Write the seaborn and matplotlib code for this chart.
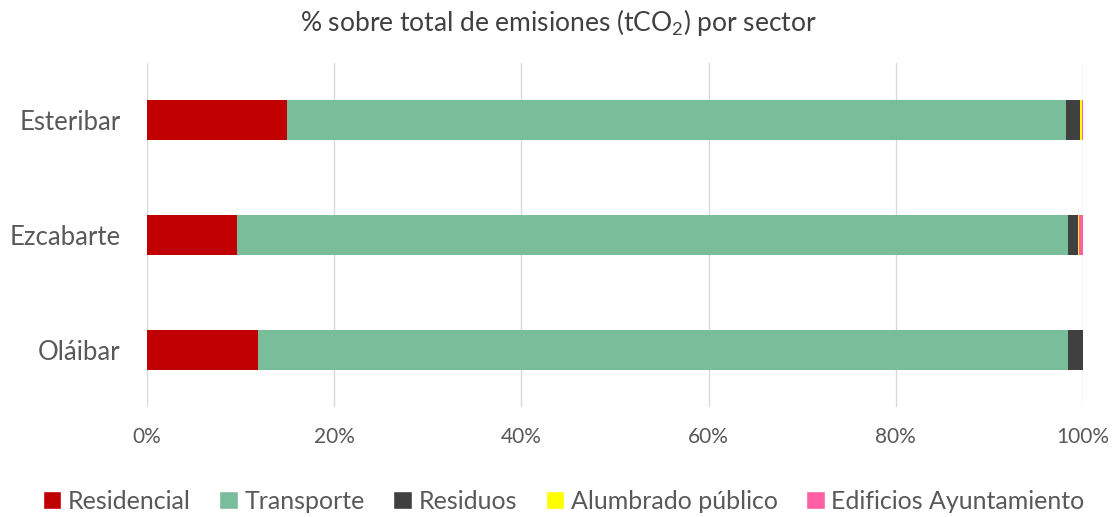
import numpy as np
import pandas as pd
import matplotlib
matplotlib.use('Agg')
import matplotlib.pyplot as plt
import seaborn as sns
from matplotlib.patches import Patch

municipios = ['Esteribar', 'Ezcabarte', 'Oláibar']
sectores = ['Residencial', 'Transporte', 'Residuos', 'Alumbrado público', 'Edificios Ayuntamiento']
residencial = [15.0, 9.6, 11.9]
transporte = [83.2, 88.8, 86.5]
residuos = [1.5, 1.05, 1.6]
alumbrado = [0.15, 0.15, 0.0]
edificios = [0.15, 0.4, 0.0]
colores = ['#c00000', '#7abd9b', '#404040', '#ffff00', '#ff5fa2']

sns.set_style('white')
plt.rcParams['font.family'] = ['Lato', 'DejaVu Sans']
plt.rcParams['mathtext.fontset'] = 'custom'
plt.rcParams['mathtext.rm'] = 'Lato'
plt.rcParams['mathtext.it'] = 'Lato'

df = pd.DataFrame({'Municipio': municipios, 'Residencial': residencial, 'Transporte': transporte,
                   'Residuos': residuos, 'Alumbrado público': alumbrado,
                   'Edificios Ayuntamiento': edificios})
cum = df[sectores].cumsum(axis=1)

fig = plt.figure(figsize=(11.16, 5.17), dpi=100)
ax = fig.add_axes([0.1317, 0.2118, 0.8387, 0.667])

# stacked bars: draw cumulative totals from the outside in
for s, c in reversed(list(zip(sectores, colores))):
    sns.barplot(x=cum[s], y=df['Municipio'], color=c, width=0.35, orient='h', ax=ax,
                saturation=1, linewidth=0)

ax.set_xlim(0, 100)
ax.set_ylim(2.5, -0.5)
ax.set_xticks(np.arange(0, 101, 20))
ax.set_xticklabels([f'{v}%' for v in range(0, 101, 20)])
ax.xaxis.grid(True, color='#d9d9d9', linewidth=1)
ax.set_axisbelow(True)
for sp in ax.spines.values():
    sp.set_visible(False)
ax.tick_params(axis='x', labelsize=15, colors='#595959', length=0, pad=14)
ax.tick_params(axis='y', labelsize=18.5, colors='#595959', length=0, pad=19)
ax.set_xlabel('')
ax.set_ylabel('')

fig.text(0.5, 0.957, '% sobre total de emisiones (tCO$_2$) por sector', ha='center', va='center',
         fontsize=19, color='#404040')

handles = [Patch(facecolor=c, label=s) for s, c in zip(sectores, colores)]
leg = fig.legend(handles=handles, loc='center', bbox_to_anchor=(0.505, 0.03), ncol=5, frameon=False,
                 fontsize=18, handlelength=0.75, handleheight=0.75, handletextpad=0.25, columnspacing=1.15)
for t in leg.get_texts():
    t.set_color('#595959')

fig.savefig('out.png', dpi=100)
